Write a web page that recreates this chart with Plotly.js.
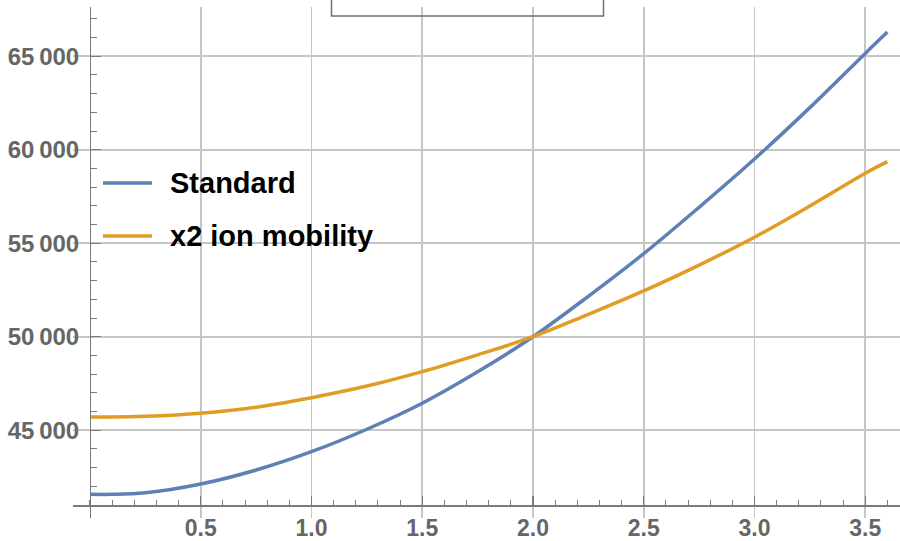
<!DOCTYPE html>
<html>
<head>
<meta charset="utf-8">
<script src="https://cdn.plot.ly/plotly-3.0.1.min.js"></script>
<style>
  html, body { margin: 0; padding: 0; background: #ffffff; }
  #chart { width: 900px; height: 541px; }
</style>
</head>
<body>
<div id="chart"></div>
<script>
// Sample positions along the horizontal axis
const xValues = [0, 0.1, 0.25, 0.5, 0.75, 1.0, 1.25, 1.5, 1.75, 2.0, 2.25, 2.5, 2.75, 3.0, 3.25, 3.5, 3.6];

// Series values
const standardValues = [41575, 41570, 41650, 42120, 42870, 43850, 45050, 46440, 48120, 50000, 52160, 54440, 56920, 59500, 62250, 65150, 66290];
const mobilityValues = [45710, 45700, 45740, 45905, 46230, 46740, 47360, 48130, 49030, 50000, 51200, 52450, 53830, 55320, 56990, 58740, 59360];

const seriesNames = ['Standard', 'x2 ion mobility'];
const seriesColors = ['#5e81b5', '#e19c24'];

// Tick labels
const xTickVals = [0.5, 1.0, 1.5, 2.0, 2.5, 3.0, 3.5];
const xTickText = ['0.5', '1.0', '1.5', '2.0', '2.5', '3.0', '3.5'];
const yTickVals = [45000, 50000, 55000, 60000, 65000];
const yTickText = ['45\u2009000', '50\u2009000', '55\u2009000', '60\u2009000', '65\u2009000'];

// Frame geometry
const W = 900, H = 541;
const M = { l: 73, r: 0, t: 7, b: 23 };
const xRange = [-0.0767, 3.657];
const yRange = [40305, 67631];
const xAxisCross = 41000;   // value where the horizontal axis sits
const yAxisCross = 0;       // value where the vertical axis sits

const plotW = W - M.l - M.r;
const plotH = H - M.t - M.b;
const px2paperX = px => (px - M.l) / plotW;
const px2paperY = py => (H - M.b - py) / plotH;

const axisGray = '#7a7a7a';
const gridGray = '#c6c6c6';
const tickFontX = { family: 'Liberation Sans, Arial, sans-serif', size: 23, color: '#666666', weight: 'bold' };
const tickFontY = { family: 'Liberation Sans, Arial, sans-serif', size: 24, color: '#666666', weight: 'bold' };

const traces = [standardValues, mobilityValues].map((vals, i) => ({
  type: 'scatter',
  mode: 'lines',
  x: xValues,
  y: vals,
  name: seriesNames[i],
  line: { color: seriesColors[i], width: 3.5, shape: 'spline', smoothing: 1 },
  showlegend: false,
  hoverinfo: 'skip'
}));

// Hand-drawn legend block: short line sample plus bold label per series
const legendLeft = 103, legendSampleLen = 49, legendTextX = 168;
const legendRows = [183, 236];
const shapes = [];
const annotations = [];
seriesNames.forEach((name, i) => {
  shapes.push({
    type: 'line', xref: 'paper', yref: 'paper',
    x0: px2paperX(legendLeft), x1: px2paperX(legendLeft + legendSampleLen),
    y0: px2paperY(legendRows[i]), y1: px2paperY(legendRows[i]),
    line: { color: seriesColors[i], width: 3.5 }
  });
  annotations.push({
    xref: 'paper', yref: 'paper',
    x: px2paperX(legendTextX), y: px2paperY(legendRows[i]),
    xanchor: 'left', yanchor: 'middle', showarrow: false,
    text: name,
    font: { family: 'Liberation Sans, Arial, sans-serif', size: 29, color: '#000000', weight: 'bold' }
  });
});

// Framed label box running off the top edge
shapes.push({
  type: 'rect', xref: 'paper', yref: 'paper',
  x0: px2paperX(331.5), x1: px2paperX(603.5),
  y0: px2paperY(16), y1: px2paperY(-10),
  line: { color: '#707070', width: 1.5 },
  fillcolor: 'rgba(0,0,0,0)'
});

const layout = {
  width: W, height: H,
  margin: M,
  paper_bgcolor: '#ffffff',
  plot_bgcolor: '#ffffff',
  showlegend: false,
  xaxis: {
    range: xRange,
    anchor: 'free',
    position: (xAxisCross - yRange[0]) / (yRange[1] - yRange[0]),
    tickmode: 'array', tickvals: xTickVals, ticktext: xTickText,
    showgrid: true, gridcolor: gridGray, gridwidth: 1.8,
    zeroline: false,
    showline: true, linecolor: axisGray, linewidth: 1.5,
    ticks: 'inside', ticklen: 9, tickwidth: 1.2, tickcolor: axisGray,
    minor: { tickmode: 'linear', tick0: 0, dtick: 0.1, ticks: 'inside', ticklen: 5, tickwidth: 1, tickcolor: axisGray, showgrid: false },
    tickfont: tickFontX,
    ticklabelstandoff: 2,
    fixedrange: true
  },
  yaxis: {
    range: yRange,
    anchor: 'free',
    position: (yAxisCross - xRange[0]) / (xRange[1] - xRange[0]),
    tickmode: 'array', tickvals: yTickVals, ticktext: yTickText,
    showgrid: true, gridcolor: gridGray, gridwidth: 1.8,
    zeroline: false,
    showline: true, linecolor: axisGray, linewidth: 1.5,
    ticks: 'inside', ticklen: 10, tickwidth: 1.2, tickcolor: axisGray,
    minor: { tickmode: 'linear', tick0: 0, dtick: 1000, ticks: 'inside', ticklen: 6, tickwidth: 1, tickcolor: axisGray, showgrid: false },
    tickfont: tickFontY,
    ticklabelstandoff: 6,
    fixedrange: true
  },
  shapes: shapes,
  annotations: annotations
};

Plotly.newPlot('chart', traces, layout, { displayModeBar: false, staticPlot: true });
</script>
</body>
</html>
